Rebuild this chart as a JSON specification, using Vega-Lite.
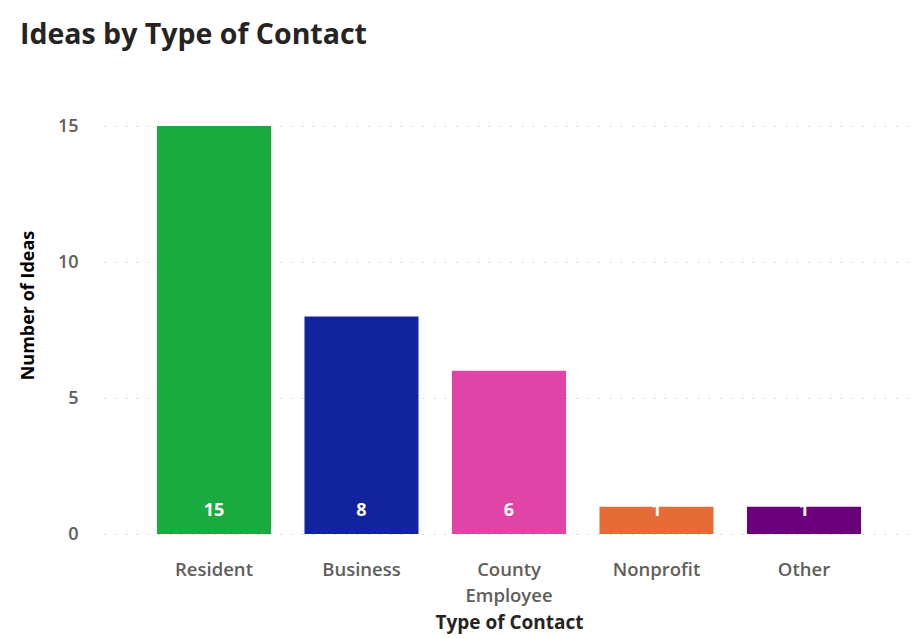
{
  "$schema": "https://vega.github.io/schema/vega-lite/v6.json",
  "autosize": {"type": "none"},
  "width": 812,
  "height": 408,
  "padding": {"left": 103, "top": 126, "right": 5, "bottom": 104},
  "background": "white",
  "title": {
    "text": "Ideas by Type of Contact",
    "anchor": "start",
    "frame": "group",
    "dx": -83,
    "offset": 68,
    "font": "Open Sans",
    "fontSize": 28.5,
    "fontWeight": "bold",
    "color": "#252423"
  },
  "data": {
    "values": [
      {"type": "Resident", "ideas": 15},
      {"type": "Business", "ideas": 8},
      {"type": "County Employee", "ideas": 6},
      {"type": "Nonprofit", "ideas": 1},
      {"type": "Other", "ideas": 1}
    ]
  },
  "config": {
    "view": {"stroke": null},
    "font": "Open Sans"
  },
  "layer": [
    {
      "mark": {"type": "bar"},
      "encoding": {
        "x": {
          "field": "type",
          "type": "nominal",
          "sort": null,
          "scale": {"paddingInner": 0.227, "paddingOuter": 0.366},
          "axis": {
            "title": "Type of Contact",
            "labelAngle": 0,
            "labelExpr": "datum.label == 'County Employee' ? ['County', 'Employee'] : datum.label",
            "labelFont": "Open Sans",
            "labelFontSize": 18.5,
            "labelFontWeight": 600,
            "labelColor": "#605E5C",
            "labelLineHeight": 26,
            "labelPadding": 26,
            "ticks": false,
            "domain": false,
            "titleFont": "Open Sans",
            "titleFontSize": 19,
            "titleFontWeight": "bold",
            "titleColor": "#252423",
            "titlePadding": 9
          }
        },
        "y": {
          "field": "ideas",
          "type": "quantitative",
          "scale": {"domain": [0, 15], "nice": false},
          "axis": {
            "title": "Number of Ideas",
            "values": [0, 5, 10, 15],
            "labelFont": "Open Sans",
            "labelFontSize": 18,
            "labelFontWeight": 600,
            "labelColor": "#605E5C",
            "labelPadding": 25,
            "ticks": false,
            "domain": false,
            "gridColor": "#D2D0CE",
            "gridDash": [2, 9],
            "gridWidth": 1,
            "titleFont": "Open Sans",
            "titleFontSize": 18,
            "titleFontWeight": "bold",
            "titleColor": "#000000",
            "titleX": -66,
            "titleY": 179
          }
        },
        "color": {
          "field": "type",
          "type": "nominal",
          "sort": null,
          "scale": {
            "domain": ["Resident", "Business", "County Employee", "Nonprofit", "Other"],
            "range": ["#1AAB40", "#12239E", "#E044A7", "#E66C37", "#6B007B"]
          },
          "legend": null
        }
      }
    },
    {
      "mark": {
        "type": "text",
        "color": "white",
        "font": "Open Sans",
        "fontSize": 18,
        "fontWeight": "bold",
        "baseline": "middle",
        "dy": -23
      },
      "encoding": {
        "x": {"field": "type", "type": "nominal", "sort": null},
        "y": {"datum": 0, "type": "quantitative"},
        "text": {"field": "ideas", "type": "quantitative"}
      }
    }
  ]
}
